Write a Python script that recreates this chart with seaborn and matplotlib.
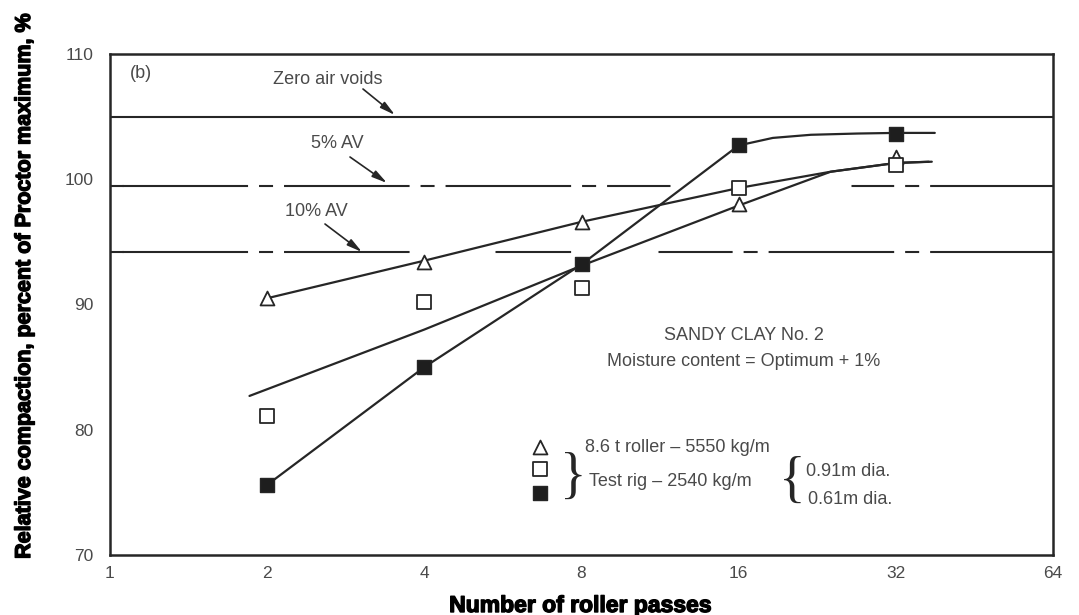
import numpy as np
import pandas as pd
import matplotlib
matplotlib.use("Agg")
import matplotlib.pyplot as plt
import matplotlib.patheffects as pe
from matplotlib.ticker import NullLocator, FixedLocator, FixedFormatter
import seaborn as sns

# ---------------- data ----------------
passes = [2, 4, 8, 16, 32]
roller_861 = [90.5, 93.4, 96.6, 98.0, 101.8]      # open triangles
rig_091 = [81.1, 90.2, 91.3, 99.3, 101.1]         # open squares
rig_061 = [75.6, 85.0, 93.2, 102.7, 103.6]        # filled squares

# hand-drawn fitted curves
fit_861_x = [2, 4, 8, 16, 24, 32, 37.5]
fit_861_y = [90.5, 93.5, 96.6, 99.3, 100.6, 101.3, 101.4]
fit_091_x = [1.85, 4, 8, 16, 24, 32, 37]
fit_091_y = [82.7, 88.0, 93.1, 97.9, 100.6, 101.3, 101.4]
fit_061_x = [2, 4, 8, 16, 18.6, 22, 27, 32, 38]
fit_061_y = [75.6, 85.0, 93.2, 102.7, 103.3, 103.55, 103.65, 103.7, 103.7]

zero_air_voids = 105.0
av_5 = 99.5
av_10 = 94.2

x_ticks = [1, 2, 4, 8, 16, 32, 64]
x_tick_labels = ["1", "2", "4", "8", "16", "32", "64"]
y_ticks = [70, 80, 90, 100, 110]
y_tick_labels = ["70", "80", "90", "100", "110"]

# ---------------- style ----------------
sns.set_style("white")
plt.rcParams['font.family'] = ['Liberation Sans', 'DejaVu Sans']
plt.rcParams['lines.scale_dashes'] = False

ink = '#262626'
grey_txt = '#4a4a4a'

W, H = 1079, 615
fig = plt.figure(figsize=(W / 100, H / 100), dpi=100)
L, T, R, B = 110, 54, 1053, 555
ax = fig.add_axes([L / W, 1 - B / H, (R - L) / W, (B - T) / H])
ax.set_xscale('log', base=2)
ax.set_xlim(x_ticks[0], x_ticks[-1])
ax.set_ylim(y_ticks[0], y_ticks[-1])


def f(xp, yp):
    """pixel position of the reference -> axes fraction"""
    return ((xp - L) / (R - L), (B - yp) / (B - T))


# ---------------- reference lines ----------------
ax.axhline(zero_air_voids, color=ink, lw=1.5, zorder=1)
dash = (107.3, (90.4, 7.9, 10.1, 7.9))
for v in (av_5, av_10):
    ax.axhline(v, color=ink, lw=1.5, linestyle=dash, zorder=1)
    ax.hlines(v, 1, 2 ** (14 / 157.2), color=ink, lw=1.5, zorder=1)
# breaks in the dashed lines where curves cross
ax.hlines(av_5, 11.8, 26.3, color='white', lw=5, zorder=1.5)
ax.hlines(av_10, 3.84, 5.46, color='white', lw=5, zorder=1.5)
ax.hlines(av_10, 7.84, 11.2, color='white', lw=5, zorder=1.5)

# ---------------- fitted curves ----------------
curves = pd.DataFrame({
    'passes': fit_861_x + fit_091_x + fit_061_x,
    'compaction': fit_861_y + fit_091_y + fit_061_y,
    'curve': (['8.6 t'] * len(fit_861_x) + ['0.91'] * len(fit_091_x)
              + ['0.61'] * len(fit_061_x)),
})
sns.lineplot(data=curves, x='passes', y='compaction', units='curve',
             estimator=None, sort=False, color=ink, lw=1.6, ax=ax,
             zorder=2, legend=False)

# ---------------- data markers ----------------
sns.scatterplot(x=passes, y=roller_861, marker='^', s=100, color='white',
                edgecolor=ink, linewidth=1.3, zorder=3, ax=ax, legend=False)
sns.scatterplot(x=passes, y=rig_091, marker='s', s=90, color='white',
                edgecolor=ink, linewidth=1.3, zorder=3, ax=ax, legend=False)
sns.scatterplot(x=passes, y=rig_061, marker='s', s=100, color='#1e1e1e',
                edgecolor=ink, linewidth=1.0, zorder=3, ax=ax, legend=False)

# ---------------- axes ----------------
ax.xaxis.set_major_locator(FixedLocator(x_ticks))
ax.xaxis.set_major_formatter(FixedFormatter(x_tick_labels))
ax.xaxis.set_minor_locator(NullLocator())
ax.yaxis.set_major_locator(FixedLocator(y_ticks))
ax.yaxis.set_major_formatter(FixedFormatter(y_tick_labels))
ax.tick_params(axis='both', direction='in', length=8, width=1.6,
               color=ink, labelcolor=grey_txt, labelsize=12.5)
ax.tick_params(axis='x', pad=8)
ax.tick_params(axis='y', pad=12)
for s in ax.spines.values():
    s.set_linewidth(1.8)
    s.set_color(ink)

thick = [pe.withStroke(linewidth=1.0, foreground='black')]
ax.set_xlabel('Number of roller passes', fontsize=16.5, fontweight='bold',
              color='black', path_effects=thick)
ax.xaxis.set_label_coords(*f(580, 594))
ax.set_ylabel('Relative compaction, percent of Proctor maximum, %',
              fontsize=15.5, fontweight='bold', color='black',
              path_effects=thick)
ax.yaxis.set_label_coords(*f(35, 286))

# ---------------- annotations ----------------
ta = dict(transform=ax.transAxes, color=grey_txt, fontsize=13,
          ha='center', va='center')
ax.text(*f(141, 73), '(b)', **ta)
ax.text(*f(328, 79), 'Zero air voids', **ta)
ax.text(*f(337, 143), '5% AV', **ta)
ax.text(*f(316, 211), '10% AV', **ta)
ap = dict(arrowstyle='-|>,head_length=0.9,head_width=0.22', lw=1.2,
          color=ink, shrinkA=0, shrinkB=0)
for (x0, y0, x1, y1) in [(363, 89, 395, 115), (350, 157, 387, 183),
                         (325, 224, 362, 252)]:
    ax.annotate('', xy=f(x1, y1), xytext=f(x0, y0), xycoords='axes fraction',
                textcoords='axes fraction', arrowprops=ap)

ax.text(*f(744, 336), 'SANDY CLAY No. 2', **ta)
ax.text(*f(744, 361), 'Moisture content = Optimum + 1%', **ta)

# legend block
ax.scatter(*f(540, 447), marker='^', s=100, facecolor='white', edgecolor=ink,
           linewidth=1.3, transform=ax.transAxes, zorder=3)
ax.scatter(*f(540, 469), marker='s', s=90, facecolor='white', edgecolor=ink,
           linewidth=1.3, transform=ax.transAxes, zorder=3)
ax.scatter(*f(540, 493), marker='s', s=100, facecolor='#1e1e1e',
           edgecolor=ink, linewidth=1.0, transform=ax.transAxes, zorder=3)
tl = dict(transform=ax.transAxes, color=grey_txt, fontsize=13,
          ha='left', va='center')
ax.text(*f(585, 447), '8.6 t roller \u2013 5550 kg/m', **tl)
ax.text(*f(589, 481), 'Test rig \u2013 2540 kg/m', **tl)
ax.text(*f(806, 471), '0.91m dia.', **tl)
ax.text(*f(808, 499), '0.61m dia.', **tl)
tb = dict(transform=ax.transAxes, color=ink, fontsize=40, ha='center',
          va='center', family='Liberation Serif')
ax.text(*f(573, 479), '}', **tb)
ax.text(*f(792, 483), '{', **tb)

fig.savefig('out.png', dpi=100)
